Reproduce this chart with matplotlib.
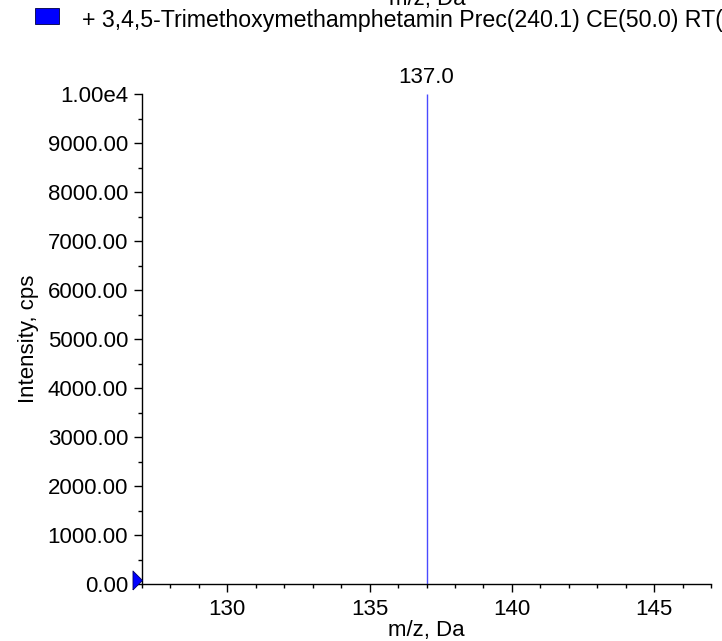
import matplotlib
matplotlib.use("Agg")
import matplotlib.pyplot as plt
from matplotlib.ticker import MultipleLocator, FuncFormatter
from matplotlib.patches import Rectangle
from matplotlib.transforms import ScaledTranslation

plt.rcParams['font.family'] = ['Liberation Sans', 'DejaVu Sans']

# スペクトルのピーク
mz = [137.0]
intensity = [10000.0]
peak_labels = ["137.0"]
legend_text = "+ 3,4,5-Trimethoxymethamphetamin Prec(240.1) CE(50.0) RT(4.40) (Lib: ...)"

W, H = 722, 641
fig = plt.figure(figsize=(W / 100, H / 100), dpi=100)
ax = fig.add_axes([142 / W, 1 - 584 / H, (711 - 142) / W, (584 - 94) / H])

ax.vlines(mz, 0, intensity, colors="#4a4aff", linewidth=1.0)
for x, y, t in zip(mz, intensity, peak_labels):
    ax.annotate(t, (x, y), xytext=(0, 4), textcoords="offset points",
                ha="center", va="bottom", fontsize=16)

# 左端の三角マーカー（先端が軸に接する）
tri = [(-1, -1), (0, 0), (-1, 1), (-1, -1)]
off = ScaledTranslation(0, 4 / 100, fig.dpi_scale_trans)
ax.plot([127], [0], marker=tri, markersize=13.7, color="#0000ff",
        markeredgecolor="#000060", markeredgewidth=0.6, clip_on=False,
        zorder=5, transform=ax.transData + off)

ax.set_xlim(127, 147)
ax.set_ylim(0, 10000)
ax.xaxis.set_major_locator(MultipleLocator(5))
ax.xaxis.set_minor_locator(MultipleLocator(1))
ax.yaxis.set_major_locator(MultipleLocator(1000))
ax.yaxis.set_minor_locator(MultipleLocator(500))


def yfmt(v, pos):
    if v >= 10000:
        return "1.00e4"
    return "{:.2f}".format(v)


ax.yaxis.set_major_formatter(FuncFormatter(yfmt))
for s in ["top", "right"]:
    ax.spines[s].set_visible(False)
for s in ["left", "bottom"]:
    ax.spines[s].set_linewidth(1.0)
ax.tick_params(which="major", length=6, width=1, labelsize=16, pad=4)
ax.tick_params(which="minor", length=3, width=1)
ax.tick_params(axis="x", which="major", pad=5)

ax.set_xlabel("m/z, Da", fontsize=16, labelpad=0)
ax.set_ylabel("Intensity, cps", fontsize=16, labelpad=6)

# 上部のタイトルと凡例（切れている）
fig.text(427 / W, 1 - 0 / H, "m/z, Da", ha="center", va="center", fontsize=16)
fig.patches.append(Rectangle((35 / W, 1 - 24 / H), 24 / W, 16 / H,
                             transform=fig.transFigure, facecolor="#0000ff",
                             edgecolor="#000040", linewidth=0.6))
fig.text(82 / W, 1 - 20 / H, legend_text, ha="left", va="center", fontsize=16.7)

fig.savefig("out.png", dpi=100)
